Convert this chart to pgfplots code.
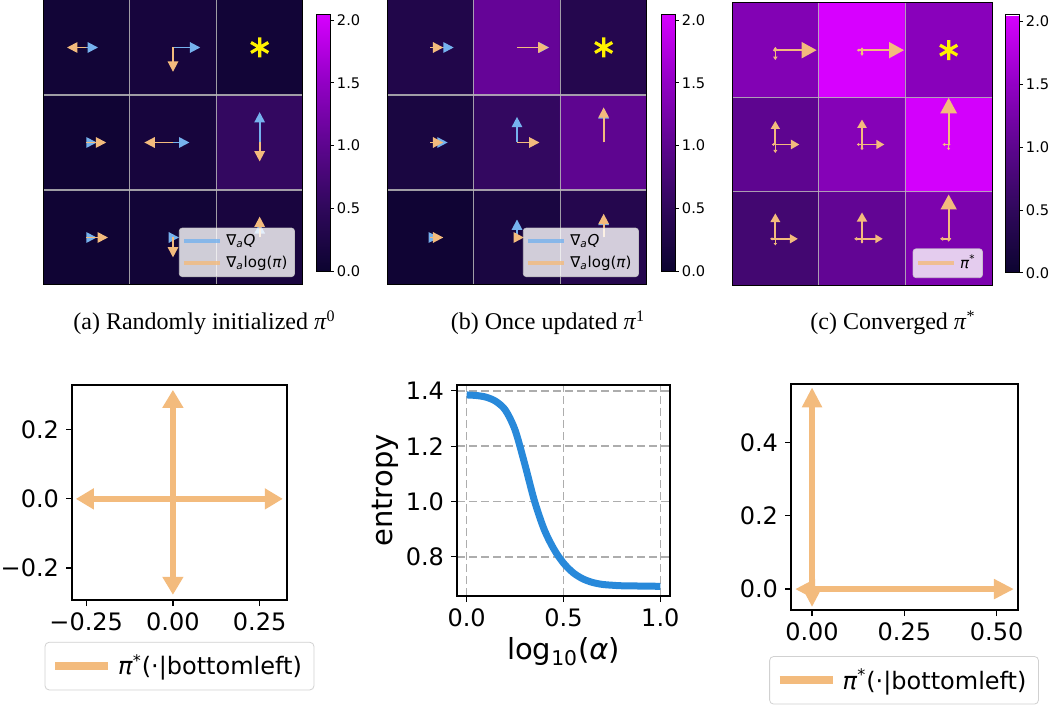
\documentclass[border=0pt]{standalone}
\usepackage{pgfplots}
\pgfplotsset{compat=1.18}
\usepackage{fontspec}
\setmainfont{DejaVu Sans}
\newfontfamily\capfont{Liberation Serif}
\usetikzlibrary{arrows.meta}

\definecolor{orng}{RGB}{243,187,125}
\definecolor{lblue}{RGB}{118,178,238}
\definecolor{cblue}{RGB}{40,137,218}

% x0 y0 x1 y1 color headlength headwidth linewidth
\newcommand{\arw}[8]{\addplot[forget plot, #5, line width=#8, -{Triangle[length=#6, width=#7]}] coordinates {(#1,#2) (#3,#4)};}

\pgfplotsset{
  colormap={pm}{rgb255=(12,4,48) rgb255=(48,8,92) rgb255=(95,5,145) rgb255=(150,0,200) rgb255=(215,0,255)},
  heat/.style={scale only axis, width=130pt, height=142.5pt,
    xmin=-0.5, xmax=2.5, ymin=-0.5, ymax=2.5,
    xtick={0.5,1.5}, ytick={0.5,1.5}, xticklabels={}, yticklabels={},
    major tick length=0pt, grid=major,
    grid style={color=white!72!black, draw opacity=0.85, line width=0.6pt},
    axis on top, axis line style={line width=0.5pt},
    point meta min=0, point meta max=2.05,
    colorbar,
    legend cell align=left,
    legend image code/.code={\draw[##1] (0pt,0pt) -- (18pt,0pt);},
    legend style={font=\fontsize{7.5}{9}\selectfont, fill=white, fill opacity=0.8,
      draw opacity=0.8, text opacity=1, draw=black!20, rounded corners=1.5pt,
      inner xsep=1.5pt, inner ysep=1pt, row sep=0pt, nodes={inner sep=2pt}},
  },
  cbar/.style={colorbar style={scale only axis, width=7pt, height=#1,
    at={(parent axis.north east)}, anchor=north west,
    ytick={0,0.5,1,1.5,2}, yticklabels={0.0,0.5,1.0,1.5,2.0},
    yticklabel style={font=\fontsize{7.3}{8}\selectfont, inner sep=1.5pt},
    major tick length=1.75pt, tick align=outside, ytick pos=right,
    tick style={line width=0.5pt, black}, axis line style={line width=0.5pt}}},
  bot/.style={scale only axis, anchor=south west, tick align=outside, tick pos=left,
    major tick length=3pt, axis line style={line width=0.6pt},
    tick style={line width=0.6pt, black},
    ticklabel style={font=\fontsize{12}{14}\selectfont},
    /pgf/number format/assume math mode=true},
  botleg/.style={legend style={font=\fontsize{12}{14}\selectfont, draw=black!18,
      rounded corners=2pt, inner xsep=3pt, inner ysep=3pt, nodes={inner sep=3pt}},
    legend image code/.code={\draw[##1] (0pt,0pt) -- (26.5pt,0pt);}},
}

\begin{document}
\begin{tikzpicture}
\useasboundingbox (0,0) rectangle (527.5pt,353.5pt);

% ---------------- (a) ----------------
\begin{axis}[heat, at={(21.5pt,211pt)}, anchor=south west,
  cbar=128.5pt, colorbar style={xshift=-2pt, yshift=-7pt},
  legend style={at={(0.969,0.028)}, anchor=south east}]
\addplot[matrix plot*, mesh/cols=3, point meta=explicit, forget plot] table[meta=c] {
x y c
0 0 0.05
1 0 0.08
2 0 0.18
0 1 0.05
1 1 0.15
2 1 0.55
0 2 0.08
1 2 0.15
2 2 0.08
};
% blue (grad Q)
\arw{0}{2}{0.135}{2}{lblue}{5.2pt}{5.2pt}{0.9pt}
\arw{1}{2}{1.315}{2}{lblue}{5.2pt}{5.2pt}{0.9pt}
\arw{0}{1}{0.12}{1}{lblue}{5.2pt}{5.2pt}{0.9pt}
\arw{1}{1}{1.19}{1}{lblue}{5.2pt}{5.2pt}{0.9pt}
\arw{2}{1}{2}{1.32}{lblue}{5.2pt}{5.2pt}{0.9pt}
\arw{0}{0}{0.12}{0}{lblue}{5.2pt}{5.2pt}{0.9pt}
\arw{1}{0}{1.07}{0}{lblue}{5.2pt}{5.2pt}{0.9pt}
\arw{2}{0}{2}{0.15}{lblue}{5.2pt}{5.2pt}{0.9pt}
% orange (grad log pi)
\arw{0}{2}{-0.223}{2}{orng}{5.2pt}{5.2pt}{0.9pt}
\arw{1}{2}{1}{1.744}{orng}{5.2pt}{5.2pt}{0.9pt}
\arw{0}{1}{0.23}{1}{orng}{5.2pt}{5.2pt}{0.9pt}
\arw{1}{1}{0.67}{1}{orng}{5.2pt}{5.2pt}{0.9pt}
\arw{2}{1}{2}{0.80}{orng}{5.2pt}{5.2pt}{0.9pt}
\arw{0}{0}{0.25}{0}{orng}{5.2pt}{5.2pt}{0.9pt}
\arw{1}{0}{1}{-0.21}{orng}{5.2pt}{5.2pt}{0.9pt}
\arw{2}{0}{2}{0.22}{orng}{5.2pt}{5.2pt}{0.9pt}
\addplot[forget plot, only marks, mark=asterisk, mark size=5pt, line width=1.6pt, color=yellow] coordinates {(2,2)};
\addlegendimage{lblue, line width=2pt}
\addlegendentry{∇\textsubscript{\textit{a}}\textit{Q}}
\addlegendimage{orng, line width=2pt}
\addlegendentry{∇\textsubscript{\textit{a}}log(\textit{π})}
\end{axis}

% ---------------- (b) ----------------
\begin{axis}[heat, at={(193.5pt,211pt)}, anchor=south west,
  cbar=128.5pt, colorbar style={xshift=-1.5pt, yshift=-7pt},
  legend style={at={(0.969,0.028)}, anchor=south east}]
\addplot[matrix plot*, mesh/cols=3, point meta=explicit, forget plot] table[meta=c] {
x y c
0 0 0.05
1 0 0.20
2 0 0.35
0 1 0.20
1 1 0.55
2 1 1.02
0 2 0.30
1 2 1.08
2 2 0.35
};
\arw{0}{2}{0.27}{2}{lblue}{5.2pt}{5.2pt}{0.9pt}
\arw{1}{2}{1.372}{2}{lblue}{5.2pt}{5.2pt}{0.9pt}
\arw{0}{1}{0.20}{1}{lblue}{5.2pt}{5.2pt}{0.9pt}
\arw{1}{1}{1}{1.27}{lblue}{5.2pt}{5.2pt}{0.9pt}
\arw{2}{1}{2}{1.36}{lblue}{5.2pt}{5.2pt}{0.9pt}
\arw{0}{0}{0.10}{0}{lblue}{5.2pt}{5.2pt}{0.9pt}
\arw{1}{0}{1}{0.19}{lblue}{5.2pt}{5.2pt}{0.9pt}
\arw{2}{0}{2}{0.24}{lblue}{5.2pt}{5.2pt}{0.9pt}
\arw{0}{2}{0.15}{2}{orng}{5.2pt}{5.2pt}{0.9pt}
\arw{1}{2}{1.365}{2}{orng}{5.2pt}{5.2pt}{0.9pt}
\arw{0}{1}{0.15}{1}{orng}{5.2pt}{5.2pt}{0.9pt}
\arw{1}{1}{1.26}{1}{orng}{5.2pt}{5.2pt}{0.9pt}
\arw{2}{1}{2}{1.37}{orng}{5.2pt}{5.2pt}{0.9pt}
\arw{0}{0}{0.15}{0}{orng}{5.2pt}{5.2pt}{0.9pt}
\arw{1}{0}{1.08}{0}{orng}{5.2pt}{5.2pt}{0.9pt}
\arw{2}{0}{2}{0.25}{orng}{5.2pt}{5.2pt}{0.9pt}
\addplot[forget plot, only marks, mark=asterisk, mark size=5pt, line width=1.6pt, color=yellow] coordinates {(2,2)};
\addlegendimage{lblue, line width=2pt}
\addlegendentry{∇\textsubscript{\textit{a}}\textit{Q}}
\addlegendimage{orng, line width=2pt}
\addlegendentry{∇\textsubscript{\textit{a}}log(\textit{π})}
\end{axis}

% ---------------- (c) ----------------
\begin{axis}[heat, at={(366pt,210.5pt)}, anchor=south west, height=141.5pt,
  cbar=129pt, colorbar style={xshift=-2pt, yshift=-6pt},
  legend style={at={(0.965,0.028)}, anchor=south east}]
\addplot[matrix plot*, mesh/cols=3, point meta=explicit, forget plot] table[meta=c] {
x y c
0 0 0.72
1 0 1.05
2 0 1.30
0 1 1.02
1 1 1.38
2 1 2.02
0 2 1.35
1 2 2.05
2 2 1.42
};
% (0,2)
\arw{0}{2}{0.477}{2}{orng}{7.5pt}{8pt}{0.9pt}
\arw{0}{2}{-0.03}{2}{orng}{1.2pt}{1.6pt}{0.7pt}
\arw{0}{2}{0}{1.894}{orng}{1.8pt}{2.2pt}{0.7pt}
\arw{0}{2}{0}{2.035}{orng}{1.2pt}{1.6pt}{0.7pt}
% (1,2)
\arw{1}{2}{1.485}{2}{orng}{7.5pt}{8pt}{0.9pt}
\arw{1}{2}{0.94}{2}{orng}{1.2pt}{1.6pt}{0.7pt}
\arw{1}{2}{1}{1.94}{orng}{1.2pt}{1.6pt}{0.7pt}
\arw{1}{2}{1}{2.03}{orng}{1pt}{1.4pt}{0.7pt}
% (0,1)
\arw{0}{1}{0}{1.25}{orng}{4pt}{4.4pt}{0.9pt}
\arw{0}{1}{0.277}{1}{orng}{4.2pt}{4.6pt}{0.9pt}
\arw{0}{1}{0}{0.91}{orng}{1.5pt}{1.9pt}{0.7pt}
\arw{0}{1}{-0.04}{1}{orng}{1pt}{1.4pt}{0.7pt}
% (1,1)
\arw{1}{1}{1}{1.265}{orng}{4.2pt}{4.6pt}{0.9pt}
\arw{1}{1}{1.258}{1}{orng}{4pt}{4.4pt}{0.9pt}
\arw{1}{1}{1}{0.94}{orng}{1.1pt}{1.5pt}{0.7pt}
\arw{1}{1}{0.94}{1}{orng}{1.1pt}{1.5pt}{0.7pt}
% (2,1)
\arw{2}{1}{2}{1.495}{orng}{7.8pt}{8.2pt}{0.9pt}
\arw{2}{1}{1.93}{1}{orng}{1.2pt}{1.6pt}{0.7pt}
\arw{2}{1}{2.02}{1}{orng}{0.8pt}{1.2pt}{0.7pt}
\arw{2}{1}{2}{0.94}{orng}{1.1pt}{1.5pt}{0.7pt}
% (0,0)
\arw{0}{0}{0}{0.27}{orng}{4.4pt}{4.8pt}{0.9pt}
\arw{0}{0}{0.26}{0}{orng}{4pt}{4.4pt}{0.9pt}
\arw{0}{0}{-0.06}{0}{orng}{1.1pt}{1.5pt}{0.7pt}
\arw{0}{0}{0}{-0.07}{orng}{1.2pt}{1.6pt}{0.7pt}
% (1,0)
\arw{1}{0}{1}{0.28}{orng}{4.6pt}{5pt}{0.9pt}
\arw{1}{0}{1.24}{0}{orng}{3.7pt}{4.1pt}{0.9pt}
\arw{1}{0}{0.91}{0}{orng}{1.4pt}{1.8pt}{0.7pt}
\arw{1}{0}{1}{-0.05}{orng}{1pt}{1.4pt}{0.7pt}
% (2,0)
\arw{2}{0}{2}{0.47}{orng}{7.5pt}{8pt}{0.9pt}
\arw{2}{0}{1.90}{0}{orng}{1.5pt}{1.9pt}{0.7pt}
\arw{2}{0}{2.03}{0}{orng}{0.8pt}{1.2pt}{0.7pt}
\arw{2}{0}{2}{-0.03}{orng}{0.8pt}{1.2pt}{0.7pt}
\addplot[forget plot, only marks, mark=asterisk, mark size=5pt, line width=1.6pt, color=yellow] coordinates {(2,2)};
\addlegendimage{orng, line width=2pt}
\addlegendentry{\textit{π}\textsuperscript{*}}
\end{axis}

% captions
\node[anchor=base, font=\capfont\fontsize{12}{14}\selectfont] at (102.25pt,188.5pt) {(a) Randomly initialized \textit{π}\textsuperscript{0}};
\node[anchor=base, font=\capfont\fontsize{12}{14}\selectfont] at (274pt,188.5pt) {(b) Once updated \textit{π}\textsuperscript{1}};
\node[anchor=base, font=\capfont\fontsize{12}{14}\selectfont] at (446.5pt,188.5pt) {(c) Converged \textit{π}\textsuperscript{*}};

% ---------------- (d) ----------------
\begin{axis}[bot, botleg, at={(36pt,53.5pt)}, width=107.5pt, height=107.5pt,
  xmin=-0.291, xmax=0.329, ymin=-0.293, ymax=0.330,
  xtick={-0.25,0,0.25}, xticklabels={−0.25,0.00,0.25},
  ytick={-0.2,0,0.2}, yticklabels={−0.2,0.0,0.2},
  legend style={at={(0.5,-0.195)}, anchor=north}]
\arw{0}{0}{0.317}{0}{orng}{9pt}{10pt}{3pt}
\arw{0}{0}{-0.28}{0}{orng}{9pt}{10pt}{3pt}
\arw{0}{0}{0}{0.316}{orng}{9pt}{10pt}{3pt}
\arw{0}{0}{0}{-0.278}{orng}{9pt}{10pt}{3pt}
\addlegendimage{orng, line width=4pt}
\addlegendentry{\textit{π}\textsuperscript{*}(·|bottomleft)}
\end{axis}

% ---------------- (e) ----------------
\begin{axis}[bot, at={(228.5pt,55.5pt)}, width=106.5pt, height=105.5pt,
  xmin=-0.05, xmax=1.05, ymin=0.658, ymax=1.421,
  xtick={0,0.5,1}, xticklabels={0.0,0.5,1.0},
  ytick={0.8,1.0,1.2,1.4}, yticklabels={0.8,1.0,1.2,1.4},
  grid=major, grid style={dash pattern=on 4pt off 2pt, color=black!32, line width=0.8pt},
  xlabel={log\textsubscript{10}(\textit{α})}, ylabel={entropy},
  label style={font=\fontsize{14.5}{16}\selectfont},
  xlabel style={at={(axis description cs:0.5,-0.265)}, anchor=center},
  ylabel style={at={(axis description cs:-0.338,0.5)}, anchor=center}]
\addplot[cblue, line width=3.5pt, smooth, tension=0.5] coordinates {
(0.00,1.385) (0.05,1.383) (0.10,1.377) (0.15,1.362) (0.20,1.330)
(0.25,1.258) (0.30,1.135) (0.35,1.002) (0.40,0.899) (0.45,0.828)
(0.50,0.777) (0.55,0.742) (0.60,0.720) (0.65,0.707) (0.70,0.700)
(0.75,0.697) (0.80,0.695) (0.90,0.694) (1.00,0.693)};
\end{axis}

% ---------------- (f) ----------------
\begin{axis}[bot, botleg, at={(395.5pt,48.5pt)}, width=113.5pt, height=113pt,
  xmin=-0.057, xmax=0.558, ymin=-0.057, ymax=0.559,
  xtick={0,0.25,0.5}, xticklabels={0.00,0.25,0.50},
  ytick={0,0.2,0.4}, yticklabels={0.0,0.2,0.4},
  legend style={at={(0.498,-0.204)}, anchor=north}]
\arw{0}{0}{0.547}{0}{orng}{10pt}{9.5pt}{3pt}
\arw{0}{0}{0}{0.55}{orng}{10pt}{9.5pt}{3pt}
\arw{0}{0}{-0.046}{0}{orng}{10pt}{9.5pt}{3pt}
\arw{0}{0}{0}{-0.049}{orng}{10pt}{9.5pt}{3pt}
\addlegendimage{orng, line width=4pt}
\addlegendentry{\textit{π}\textsuperscript{*}(·|bottomleft)}
\end{axis}
\end{tikzpicture}
\end{document}
